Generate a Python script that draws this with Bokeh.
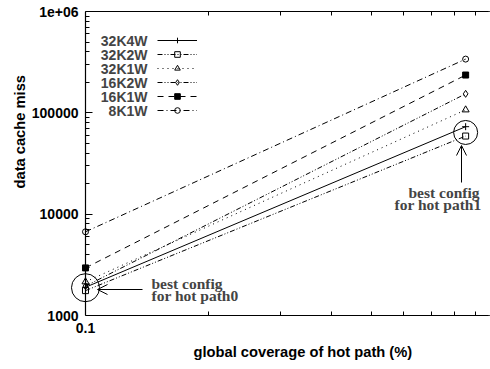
from bokeh.plotting import figure
from bokeh.models import (Range1d, FixedTicker, LogAxis, Label, Arrow, OpenHead,
                          Legend, LegendItem, Title, Span)
from bokeh.embed import file_html
from bokeh.resources import INLINE

# ---------------- data ----------------
coverage = [0.1, 0.85]
series_names = ["32K4W", "32K2W", "32K1W", "16K2W", "16K1W", "8K1W"]
miss_32K4W = [1900, 73000]
miss_32K2W = [1760, 59000]
miss_32K1W = [2150, 107000]
miss_16K2W = [1950, 154000]
miss_16K1W = [2950, 236000]
miss_8K1W = [6700, 339000]

x_ticks = [0.1, 1.0]
x_tick_labels = ["0.1", "1"]
x_minor_ticks = [0.2, 0.3, 0.4, 0.5, 0.6, 0.7, 0.8, 0.9]
y_ticks = [1000, 10000, 100000, 1000000]
y_tick_labels = ["1000", "10000", "100000", "1e+06"]
y_minor_ticks = [m * d for d in [1000, 10000, 100000] for m in range(2, 10)]

highlight_x = [0.1, 0.85]
highlight_y = [1880, 64000]

x_label = "global coverage of hot path (%)"
y_label = "data cache miss"
note0 = ["best config", "for hot path0"]
note1 = ["best config", "for hot path1"]

# ---------------- layout helpers (canvas px -> frame screen units) ----------------
FRAME_LEFT = 69
FRAME_BOTTOM = 317
X_END = 0.9777
def sx(px):
    return px - FRAME_LEFT
def sy(py):
    return FRAME_BOTTOM - py

SANS = "Liberation Sans"
SERIF = "Liberation Serif"

p = figure(width=490, height=365, x_axis_type="log", y_axis_type="log",
           x_range=Range1d(0.09139, X_END), y_range=Range1d(1000, 1000000),
           min_border_left=FRAME_LEFT, min_border_right=0, min_border_top=11,
           min_border_bottom=48, outline_line_color=None,
           toolbar_location=None, output_backend="svg")
p.grid.visible = False

xt = FixedTicker(ticks=x_ticks, minor_ticks=x_minor_ticks)
yt = FixedTicker(ticks=y_ticks, minor_ticks=y_minor_ticks)
x_over = {t: l for t, l in zip(x_ticks, x_tick_labels)}
y_over = {t: l for t, l in zip(y_ticks, y_tick_labels)}

def style_ticks(ax):
    ax.axis_line_color = "black"
    ax.axis_line_width = 1.2
    ax.major_tick_in = 7
    ax.major_tick_out = 0
    ax.minor_tick_in = 4
    ax.minor_tick_out = 0
    ax.major_tick_line_color = "black"
    ax.minor_tick_line_color = "black"

# bottom axis (line starts at 0.1)
xa = p.xaxis[0]
xa.ticker = xt
xa.bounds = (0.1, 1.0)
xa.major_label_overrides = x_over
style_ticks(xa)
xa.major_label_text_font = SANS
xa.major_label_text_font_style = "bold"
xa.major_label_text_font_size = "14px"
xa.major_label_text_color = "black"
xa.major_label_standoff = 7

# left axis line + ticks drawn at x = 0.1
ya = p.yaxis[0]
ya.ticker = yt
ya.fixed_location = 0.1
style_ticks(ya)
ya.major_label_text_font_size = "1px"
ya.major_label_text_color = None
ya.major_label_standoff = 0

# left tick labels (no line, no ticks)
ylab = LogAxis(ticker=yt, major_label_overrides=y_over, axis_line_color=None,
               major_tick_line_color=None, minor_tick_line_color=None,
               major_tick_in=0, major_tick_out=0, minor_tick_in=0, minor_tick_out=0,
               major_label_standoff=-9, major_label_text_font=SANS,
               major_label_text_font_style="bold", major_label_text_font_size="14px",
               major_label_text_color="black")
p.add_layout(ylab, "left")

# top axis
top = LogAxis(ticker=xt, bounds=(0.1, 1.0), major_label_text_font_size="1px",
              major_label_text_color=None, major_label_standoff=0)
style_ticks(top)
p.add_layout(top, "above")

# axis titles as side titles (positioned along the axes)
p.add_layout(Title(text=y_label, align="left", offset=127, standoff=1,
                   text_font=SANS, text_font_style="bold", text_font_size="14.7px",
                   text_color="black"), "left")
p.add_layout(Title(text=x_label, align="left", offset=124, standoff=12,
                   text_font=SANS, text_font_style="bold", text_font_size="14.7px",
                   text_color="black"), "below")

series = [miss_32K4W, miss_32K2W, miss_32K1W, miss_16K2W, miss_16K1W, miss_8K1W]
dashes = ["solid", "5 2 1 2 1 2", "1 4", "5 2 1 2 1 2", "6 5", "6 3 1 3"]
markers = ["cross", "square", "triangle", "diamond", "square", "circle"]
msizes = [7, 6, 7, 7, 6, 6]
mfills = [None, None, None, None, "black", None]

items = []
for name, vals, dash, mk, ms, mf in zip(series_names, series, dashes, markers, msizes, mfills):
    lr = p.line(coverage, vals, line_color="black", line_width=1, line_dash=dash)
    mr = p.scatter(coverage, vals, marker=mk, size=ms, line_color="black",
                   fill_color=mf, line_width=1)
    items.append(LegendItem(label=name, renderers=[lr, mr]))

legend = Legend(items=items, location=(sx(157), sy(35) - 84), glyph_width=40,
                glyph_height=14, spacing=0, padding=0, margin=0,
                label_text_font_size="1px", label_text_color=None,
                label_standoff=0, label_width=1, label_height=1,
                background_fill_alpha=0, border_line_color=None)
p.add_layout(legend)

for i, name in enumerate(series_names):
    p.add_layout(Label(x=sx(147), y=sy(42 + 14 * i), x_units="screen", y_units="screen",
                       text=name, text_align="right", text_baseline="middle",
                       text_font=SANS, text_font_style="bold", text_font_size="14px"))

# highlight circles
p.scatter([highlight_x[0]], [highlight_y[0]], marker="circle", size=28,
          fill_color=None, line_color="black", line_width=1)
p.scatter([highlight_x[1]], [highlight_y[1]], marker="circle", size=24,
          fill_color=None, line_color="black", line_width=1)

# notes
for txt, px, py in [(note0[0], 151, 285), (note0[1], 151, 297),
                    (note1[0], 408, 194), (note1[1], 394, 206)]:
    p.add_layout(Label(x=sx(px), y=sy(py), x_units="screen", y_units="screen",
                       text=txt, text_align="left", text_baseline="middle",
                       text_font=SERIF, text_font_style="bold",
                       text_font_size="15.5px"))

p.add_layout(Arrow(x_start=sx(142), y_start=sy(291), x_end=sx(97), y_end=sy(291),
                   start_units="screen", end_units="screen", line_width=1,
                   end=OpenHead(size=10, line_width=1)))
p.add_layout(Arrow(x_start=sx(461), y_start=sy(184), x_end=sx(461), y_end=sy(147),
                   start_units="screen", end_units="screen", line_width=1,
                   end=OpenHead(size=10, line_width=1)))

# mask the frame's right edge (the reference shows no right border)
p.add_layout(Span(location=X_END, dimension="height", line_color="white",
                  line_width=4, level="overlay"))

open("out.html", "w").write(file_html(p, INLINE))
